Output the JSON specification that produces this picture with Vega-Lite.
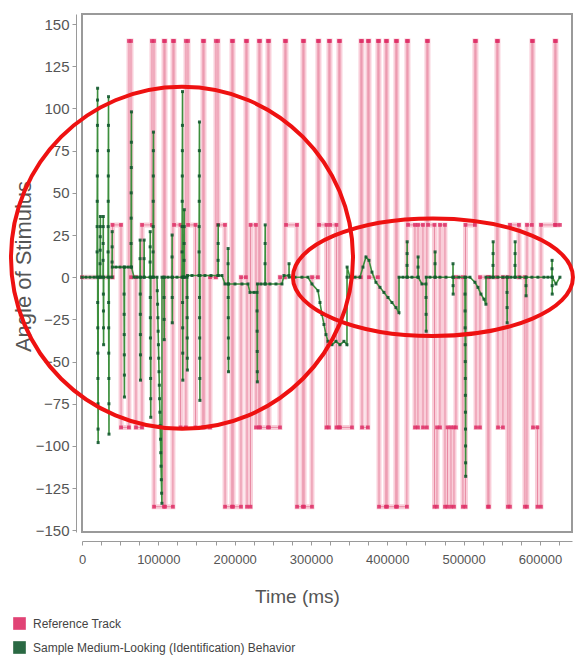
{
  "$schema": "https://vega.github.io/schema/vega-lite/v6.json",
  "width": 490,
  "height": 518,
  "autosize": {"type": "none"},
  "padding": {"left": 82, "top": 14, "right": 3, "bottom": 126},
  "background": "white",
  "config": {
    "view": {"stroke": "#9a9a9a", "strokeWidth": 2},
    "font": "Liberation Sans",
    "axis": {"grid": false, "domainColor": "#9a9a9a", "tickColor": "#9a9a9a", "labelColor": "#555555", "titleColor": "#555555", "titleFontWeight": "normal", "labelFont": "Liberation Sans", "titleFont": "Liberation Sans"}
  },
  "datasets": {
    "reference": [
      {"time":0,"angle":0},{"time":39950,"angle":0},
      {"time":40050,"angle":31},{"time":51090,"angle":31},
      {"time":51190,"angle":-89},{"time":61470,"angle":-89},
      {"time":61570,"angle":140},{"time":64190,"angle":140},
      {"time":64290,"angle":0},{"time":70640,"angle":0},
      {"time":70740,"angle":-89},{"time":78600,"angle":-89},
      {"time":78700,"angle":31},{"time":91600,"angle":31},
      {"time":91700,"angle":140},{"time":94320,"angle":140},
      {"time":94420,"angle":-136},{"time":107320,"angle":-136},
      {"time":107420,"angle":140},{"time":108730,"angle":140},
      {"time":108830,"angle":-136},{"time":119110,"angle":-136},
      {"time":119210,"angle":140},{"time":120520,"angle":140},
      {"time":120620,"angle":31},{"time":129030,"angle":31},
      {"time":129130,"angle":-89},{"time":136140,"angle":-89},
      {"time":136240,"angle":140},{"time":138860,"angle":140},
      {"time":138960,"angle":31},{"time":148690,"angle":31},
      {"time":148790,"angle":-89},{"time":158410,"angle":-89},
      {"time":158510,"angle":140},{"time":159820,"angle":140},
      {"time":159920,"angle":-89},{"time":167680,"angle":-89},
      {"time":167780,"angle":0},{"time":175440,"angle":0},
      {"time":175540,"angle":140},{"time":178160,"angle":140},
      {"time":178260,"angle":31},{"time":187330,"angle":31},
      {"time":187430,"angle":-136},{"time":196400,"angle":-136},
      {"time":196500,"angle":140},{"time":197810,"angle":140},
      {"time":197910,"angle":-136},{"time":208290,"angle":-136},
      {"time":208390,"angle":0},{"time":214740,"angle":0},
      {"time":214840,"angle":140},{"time":216150,"angle":140},
      {"time":216250,"angle":-136},{"time":220730,"angle":-136},
      {"time":220830,"angle":31},{"time":227940,"angle":31},
      {"time":228040,"angle":-89},{"time":231770,"angle":-89},
      {"time":231870,"angle":140},{"time":233180,"angle":140},
      {"time":233280,"angle":-89},{"time":243560,"angle":-89},
      {"time":243660,"angle":140},{"time":244970,"angle":140},
      {"time":245070,"angle":-89},{"time":259380,"angle":-89},
      {"time":259480,"angle":0},{"time":265830,"angle":0},
      {"time":265930,"angle":140},{"time":267240,"angle":140},
      {"time":267340,"angle":31},{"time":281650,"angle":31},
      {"time":281750,"angle":-136},{"time":289410,"angle":-136},
      {"time":289510,"angle":140},{"time":290820,"angle":140},
      {"time":290920,"angle":-136},{"time":301300,"angle":-136},
      {"time":301400,"angle":0},{"time":309060,"angle":0},
      {"time":309160,"angle":140},{"time":310470,"angle":140},
      {"time":310570,"angle":31},{"time":320300,"angle":31},
      {"time":320400,"angle":-89},{"time":323470,"angle":-89},
      {"time":323570,"angle":140},{"time":324880,"angle":140},
      {"time":324980,"angle":31},{"time":333400,"angle":31},
      {"time":333500,"angle":-89},{"time":336570,"angle":-89},
      {"time":336670,"angle":140},{"time":337980,"angle":140},
      {"time":338080,"angle":-89},{"time":353700,"angle":-89},
      {"time":353800,"angle":0},{"time":365390,"angle":0},
      {"time":365490,"angle":140},{"time":366800,"angle":140},
      {"time":366900,"angle":-89},{"time":374560,"angle":-89},
      {"time":374660,"angle":140},{"time":375970,"angle":140},
      {"time":376070,"angle":0},{"time":387660,"angle":0},
      {"time":387760,"angle":140},{"time":389070,"angle":140},
      {"time":389170,"angle":-136},{"time":398140,"angle":-136},
      {"time":398240,"angle":140},{"time":399550,"angle":140},
      {"time":399650,"angle":-136},{"time":411240,"angle":-136},
      {"time":411340,"angle":140},{"time":412650,"angle":140},
      {"time":412750,"angle":-136},{"time":425650,"angle":-136},
      {"time":425750,"angle":140},{"time":427060,"angle":140},
      {"time":427160,"angle":31},{"time":436230,"angle":31},
      {"time":436330,"angle":-89},{"time":440160,"angle":-89},
      {"time":440260,"angle":31},{"time":446710,"angle":31},
      {"time":446810,"angle":-89},{"time":451850,"angle":-89},
      {"time":451950,"angle":140},{"time":453260,"angle":140},
      {"time":453360,"angle":31},{"time":461780,"angle":31},
      {"time":461880,"angle":-136},{"time":465050,"angle":-136},
      {"time":465150,"angle":-89},{"time":468980,"angle":-89},
      {"time":469080,"angle":31},{"time":475530,"angle":31},
      {"time":475630,"angle":-136},{"time":478800,"angle":-136},
      {"time":478900,"angle":-89},{"time":483390,"angle":-89},
      {"time":483490,"angle":-136},{"time":487320,"angle":-136},
      {"time":487420,"angle":-89},{"time":489940,"angle":-89},
      {"time":490040,"angle":0},{"time":499010,"angle":0},
      {"time":499110,"angle":-136},{"time":502380,"angle":-136},
      {"time":502480,"angle":31},{"time":514730,"angle":31},
      {"time":514830,"angle":140},{"time":516140,"angle":140},
      {"time":516240,"angle":-89},{"time":521380,"angle":-89},
      {"time":521480,"angle":0},{"time":531760,"angle":0},
      {"time":531860,"angle":-136},{"time":533170,"angle":-136},
      {"time":533270,"angle":0},{"time":543550,"angle":0},
      {"time":543650,"angle":140},{"time":544960,"angle":140},
      {"time":545060,"angle":-89},{"time":551510,"angle":-89},
      {"time":551610,"angle":0},{"time":557960,"angle":0},
      {"time":558060,"angle":-136},{"time":560680,"angle":-136},
      {"time":560780,"angle":31},{"time":572470,"angle":31},
      {"time":572570,"angle":0},{"time":580230,"angle":0},
      {"time":580330,"angle":-136},{"time":582950,"angle":-136},
      {"time":583050,"angle":31},{"time":589400,"angle":31},
      {"time":589500,"angle":140},{"time":590810,"angle":140},
      {"time":590910,"angle":-89},{"time":596700,"angle":-89},
      {"time":596800,"angle":-136},{"time":601290,"angle":-136},
      {"time":601390,"angle":31},{"time":619530,"angle":31},
      {"time":619630,"angle":140},{"time":620940,"angle":140},
      {"time":621040,"angle":31},{"time":626180,"angle":31}
    ],
    "behavior": [
      {"time":0,"angle":0},{"time":5240,"angle":0},{"time":10480,"angle":0},{"time":15720,"angle":0},
      {"time":19650,"angle":0},{"time":19750,"angle":15},{"time":19850,"angle":30},{"time":19950,"angle":45},{"time":20050,"angle":60},{"time":20150,"angle":75},{"time":20250,"angle":90},{"time":20350,"angle":105},{"time":20450,"angle":112},{"time":20550,"angle":-15},{"time":20650,"angle":-30},{"time":20750,"angle":-45},{"time":20850,"angle":-60},{"time":20950,"angle":-75},{"time":21050,"angle":-90},{"time":21150,"angle":-98},{"time":21250,"angle":0},
      {"time":23580,"angle":0},{"time":23680,"angle":8},{"time":23780,"angle":16},{"time":23880,"angle":24},{"time":23980,"angle":30},{"time":24080,"angle":36},{"time":24180,"angle":0},
      {"time":27510,"angle":0},{"time":27610,"angle":10},{"time":27710,"angle":20},{"time":27810,"angle":30},{"time":27910,"angle":36},{"time":28010,"angle":-10},{"time":28110,"angle":-20},{"time":28210,"angle":-30},{"time":28310,"angle":-40},{"time":28410,"angle":0},
      {"time":34060,"angle":0},{"time":34160,"angle":15},{"time":34260,"angle":30},{"time":34360,"angle":45},{"time":34460,"angle":60},{"time":34560,"angle":75},{"time":34660,"angle":90},{"time":34760,"angle":107},{"time":34860,"angle":-15},{"time":34960,"angle":-30},{"time":35060,"angle":-45},{"time":35160,"angle":-60},{"time":35260,"angle":-75},{"time":35360,"angle":-93},{"time":35460,"angle":0},
      {"time":39300,"angle":0},{"time":39400,"angle":9},{"time":39500,"angle":18},{"time":39600,"angle":27},{"time":39700,"angle":6},{"time":44540,"angle":6},{"time":49780,"angle":6},
      {"time":55020,"angle":6},{"time":55120,"angle":-10},{"time":55220,"angle":-22},{"time":55320,"angle":-34},{"time":55420,"angle":-46},{"time":55520,"angle":-58},{"time":55620,"angle":-71},{"time":55720,"angle":6},
      {"time":60260,"angle":6},
      {"time":64190,"angle":6},{"time":64290,"angle":20},{"time":64390,"angle":35},{"time":64490,"angle":50},{"time":64590,"angle":65},{"time":64690,"angle":80},{"time":64790,"angle":98},{"time":64890,"angle":6},
      {"time":68120,"angle":0},{"time":72050,"angle":0},
      {"time":75980,"angle":0},{"time":76080,"angle":11},{"time":76180,"angle":22},{"time":76280,"angle":-10},{"time":76380,"angle":-22},{"time":76480,"angle":-34},{"time":76580,"angle":-46},{"time":76680,"angle":-61},{"time":76780,"angle":0},
      {"time":81220,"angle":0},{"time":81320,"angle":11},{"time":81420,"angle":22},{"time":81520,"angle":0},
      {"time":89080,"angle":0},{"time":89180,"angle":9},{"time":89280,"angle":18},{"time":89380,"angle":27},{"time":89480,"angle":-12},{"time":89580,"angle":-24},{"time":89680,"angle":-36},{"time":89780,"angle":-48},{"time":89880,"angle":-60},{"time":89980,"angle":-72},{"time":90080,"angle":-83},{"time":90180,"angle":0},
      {"time":93010,"angle":0},{"time":93110,"angle":15},{"time":93210,"angle":30},{"time":93310,"angle":45},{"time":93410,"angle":60},{"time":93510,"angle":75},{"time":93610,"angle":86},{"time":93710,"angle":0},
      {"time":98250,"angle":0},{"time":98630,"angle":-8},{"time":99010,"angle":-16},{"time":99390,"angle":-24},{"time":99770,"angle":-32},{"time":100150,"angle":-40},{"time":100530,"angle":-48},{"time":100910,"angle":-56},{"time":101290,"angle":-64},{"time":101670,"angle":-72},{"time":102050,"angle":-80},{"time":102430,"angle":-88},{"time":102810,"angle":-96},{"time":103190,"angle":-104},{"time":103570,"angle":-112},{"time":103950,"angle":-120},{"time":104330,"angle":-128},{"time":104710,"angle":-134},{"time":104810,"angle":0},
      {"time":107420,"angle":0},{"time":107520,"angle":-12},{"time":107620,"angle":-25},{"time":107720,"angle":-37},{"time":107820,"angle":0},
      {"time":112660,"angle":0},
      {"time":117900,"angle":0},{"time":118000,"angle":12},{"time":118100,"angle":25},{"time":118200,"angle":-12},{"time":118300,"angle":-27},{"time":118400,"angle":0},
      {"time":124450,"angle":0},
      {"time":131000,"angle":0},{"time":131100,"angle":15},{"time":131200,"angle":30},{"time":131300,"angle":45},{"time":131400,"angle":60},{"time":131500,"angle":75},{"time":131600,"angle":90},{"time":131700,"angle":110},{"time":131800,"angle":-15},{"time":131900,"angle":-30},{"time":132000,"angle":-45},{"time":132100,"angle":-61},{"time":132200,"angle":0},
      {"time":133620,"angle":0},{"time":133720,"angle":10},{"time":133820,"angle":20},{"time":133920,"angle":30},{"time":134020,"angle":40},{"time":134120,"angle":0},
      {"time":137550,"angle":0},{"time":137650,"angle":-12},{"time":137750,"angle":-24},{"time":137850,"angle":-36},{"time":137950,"angle":-48},{"time":138050,"angle":-55},{"time":138150,"angle":1},
      {"time":144100,"angle":1},
      {"time":153270,"angle":1},{"time":153370,"angle":15},{"time":153470,"angle":30},{"time":153570,"angle":45},{"time":153670,"angle":60},{"time":153770,"angle":75},{"time":153870,"angle":92},{"time":153970,"angle":-12},{"time":154070,"angle":-24},{"time":154170,"angle":-36},{"time":154270,"angle":-48},{"time":154370,"angle":-60},{"time":154470,"angle":-73},{"time":154570,"angle":1},
      {"time":161130,"angle":1},{"time":168990,"angle":1},
      {"time":178160,"angle":1},{"time":178260,"angle":10},{"time":178360,"angle":20},{"time":178460,"angle":31},{"time":178560,"angle":1},
      {"time":183400,"angle":1},{"time":187330,"angle":-4},
      {"time":191260,"angle":-4},{"time":191360,"angle":8},{"time":191460,"angle":17},{"time":191560,"angle":-12},{"time":191660,"angle":-24},{"time":191760,"angle":-36},{"time":191860,"angle":-48},{"time":191960,"angle":-56},{"time":192060,"angle":-4},
      {"time":200430,"angle":-4},{"time":209600,"angle":-4},{"time":217460,"angle":-4},{"time":220080,"angle":-9},{"time":225320,"angle":-9},
      {"time":229250,"angle":-9},{"time":229350,"angle":-20},{"time":229450,"angle":-32},{"time":229550,"angle":-44},{"time":229650,"angle":-56},{"time":229750,"angle":-62},{"time":229850,"angle":-4},
      {"time":234490,"angle":-4},
      {"time":239730,"angle":-4},{"time":239830,"angle":8},{"time":239930,"angle":20},{"time":240030,"angle":31},{"time":240130,"angle":-4},
      {"time":246280,"angle":-4},{"time":254140,"angle":-4},{"time":262000,"angle":-4},{"time":264620,"angle":1},
      {"time":271170,"angle":1},{"time":271270,"angle":8},{"time":271370,"angle":0},
      {"time":279030,"angle":0},{"time":288200,"angle":0},{"time":296060,"angle":0},{"time":301300,"angle":-4},
      {"time":309160,"angle":-8},{"time":311780,"angle":-15},{"time":314400,"angle":-22},{"time":317020,"angle":-28},{"time":319640,"angle":-34},{"time":322260,"angle":-38},{"time":327500,"angle":-40},{"time":332740,"angle":-38},{"time":337980,"angle":-40},{"time":343220,"angle":-38},{"time":347150,"angle":-40},{"time":347250,"angle":0},{"time":347350,"angle":6},
      {"time":351080,"angle":0},{"time":357630,"angle":0},{"time":364180,"angle":0},{"time":368110,"angle":6},{"time":372040,"angle":12},{"time":375970,"angle":10},{"time":379900,"angle":3},
      {"time":385140,"angle":-3},{"time":390380,"angle":-6},{"time":395620,"angle":-9},{"time":400860,"angle":-12},{"time":406100,"angle":-15},{"time":411340,"angle":-18},{"time":415270,"angle":-21},{"time":415370,"angle":0},
      {"time":420510,"angle":0},
      {"time":425750,"angle":0},{"time":425850,"angle":7},{"time":425950,"angle":14},{"time":426050,"angle":21},{"time":426150,"angle":0},
      {"time":432300,"angle":0},
      {"time":440160,"angle":0},{"time":440260,"angle":6},{"time":440360,"angle":12},{"time":440460,"angle":0},
      {"time":445400,"angle":-4},
      {"time":450640,"angle":-4},{"time":450740,"angle":-12},{"time":450840,"angle":-22},{"time":450940,"angle":-32},{"time":451040,"angle":0},
      {"time":455880,"angle":0},
      {"time":462430,"angle":0},{"time":462530,"angle":8},{"time":462630,"angle":15},{"time":462730,"angle":0},
      {"time":468980,"angle":0},{"time":476840,"angle":0},
      {"time":486010,"angle":0},{"time":486110,"angle":8},{"time":486210,"angle":-5},{"time":486310,"angle":-10},{"time":486410,"angle":0},
      {"time":493870,"angle":0},
      {"time":501730,"angle":0},{"time":501810,"angle":-10},{"time":501890,"angle":-20},{"time":501970,"angle":-30},{"time":502050,"angle":-40},{"time":502130,"angle":-50},{"time":502210,"angle":-60},{"time":502290,"angle":-70},{"time":502370,"angle":-80},{"time":502450,"angle":-90},{"time":502530,"angle":-100},{"time":502610,"angle":-110},{"time":502690,"angle":-118},{"time":502790,"angle":0},
      {"time":508280,"angle":0},
      {"time":514830,"angle":-3},{"time":518760,"angle":-6},{"time":522690,"angle":-10},{"time":526620,"angle":-13},{"time":529240,"angle":-16},{"time":529340,"angle":0},
      {"time":534480,"angle":0},
      {"time":538410,"angle":0},{"time":538510,"angle":7},{"time":538610,"angle":14},{"time":538710,"angle":21},{"time":538810,"angle":0},
      {"time":544960,"angle":0},{"time":551510,"angle":0},
      {"time":556750,"angle":0},{"time":556850,"angle":-9},{"time":556950,"angle":-18},{"time":557050,"angle":-27},{"time":557150,"angle":0},
      {"time":561990,"angle":0},
      {"time":567230,"angle":0},{"time":567330,"angle":7},{"time":567430,"angle":14},{"time":567530,"angle":21},{"time":567630,"angle":0},
      {"time":573780,"angle":0},
      {"time":581640,"angle":0},{"time":581740,"angle":-5},{"time":581840,"angle":-11},{"time":581940,"angle":0},
      {"time":589500,"angle":0},{"time":597360,"angle":0},{"time":605220,"angle":0},{"time":610460,"angle":0},
      {"time":615700,"angle":0},{"time":615800,"angle":5},{"time":615900,"angle":10},{"time":616000,"angle":-5},{"time":616100,"angle":-10},{"time":616200,"angle":0},
      {"time":620940,"angle":-4},{"time":626180,"angle":0}
    ]
  },
  "encoding": {
    "x": {
      "field": "time", "type": "quantitative",
      "scale": {"domain": [0, 642000], "nice": false, "zero": false},
      "axis": {
        "title": "Time (ms)", "titleFontSize": 19, "titleX": 215, "titleY": 55, "titleBaseline": "middle", "titleAnchor": null,
        "values": [0,25000,50000,75000,100000,125000,150000,175000,200000,225000,250000,275000,300000,325000,350000,375000,400000,425000,450000,475000,500000,525000,550000,575000,600000,625000],
        "labelExpr": "datum.value % 100000 === 0 ? format(datum.value, 'd') : ''",
        "labelOverlap": false, "labelFlush": false, "labelFontSize": 13, "labelPadding": 8,
        "offset": 9, "tickSize": 4
      }
    },
    "y": {
      "field": "angle", "type": "quantitative",
      "scale": {"domain": [-151, 156], "nice": false, "zero": false},
      "axis": {
        "title": "Angle of Stimulus", "titleFontSize": 22, "titleX": -53, "titleY": 252, "titleBaseline": "middle", "titleAlign": "center", "titleAngle": -90,
        "values": [-150,-125,-100,-75,-50,-25,0,25,50,75,100,125,150],
        "labelFontSize": 15, "labelPadding": 3, "offset": 6, "tickSize": 4
      }
    }
  },
  "layer": [
    {"data": {"name": "reference"}, "mark": {"type": "line", "color": "#f6b3c4", "strokeWidth": 5, "opacity": 0.65}},
    {"data": {"name": "reference"}, "mark": {"type": "line", "color": "#e88aa3", "strokeWidth": 1}},
    {"data": {"name": "reference"}, "mark": {"type": "point", "shape": "square", "filled": true, "size": 14, "opacity": 0.85},
      "encoding": {"color": {"datum": "Reference Track", "type": "nominal",
        "scale": {"domain": ["Reference Track", "Sample Medium-Looking (Identification) Behavior"], "range": ["#de2f66", "#13592f"]},
        "legend": {"orient": "none", "legendX": -69, "legendY": 603, "title": null, "symbolType": "square", "symbolSize": 160, "symbolOpacity": 1, "symbolStrokeWidth": 0, "labelFont": "Liberation Sans", "labelFontSize": 12, "labelLimit": 500, "labelColor": "#444444", "labelOffset": 7, "rowPadding": 11, "padding": 0}}}},
    {"data": {"name": "behavior"}, "mark": {"type": "line", "color": "#3d8f3d", "strokeWidth": 1.6}},
    {"data": {"name": "behavior"}, "mark": {"type": "point", "shape": "square", "filled": true, "size": 9, "opacity": 0.9},
      "encoding": {"color": {"datum": "Sample Medium-Looking (Identification) Behavior", "type": "nominal"}}},
    {"data": {"values": [{"time": 131000, "angle": 11.5}]},
      "mark": {"type": "point", "shape": "M-1,0A1,1,0,1,1,1,0A1,1,0,1,1,-1,0Z", "size": 116964, "filled": false, "stroke": "#ee1111", "strokeWidth": 4, "opacity": 1, "clip": false}},
    {"data": {"values": [{"time": 459800, "angle": 0}]},
      "mark": {"type": "point", "shape": "M-1,0A1,0.42,0,1,1,1,0A1,0.42,0,1,1,-1,0Z", "size": 78400, "filled": false, "stroke": "#ee1111", "strokeWidth": 4, "opacity": 1, "clip": false}}
  ]
}
